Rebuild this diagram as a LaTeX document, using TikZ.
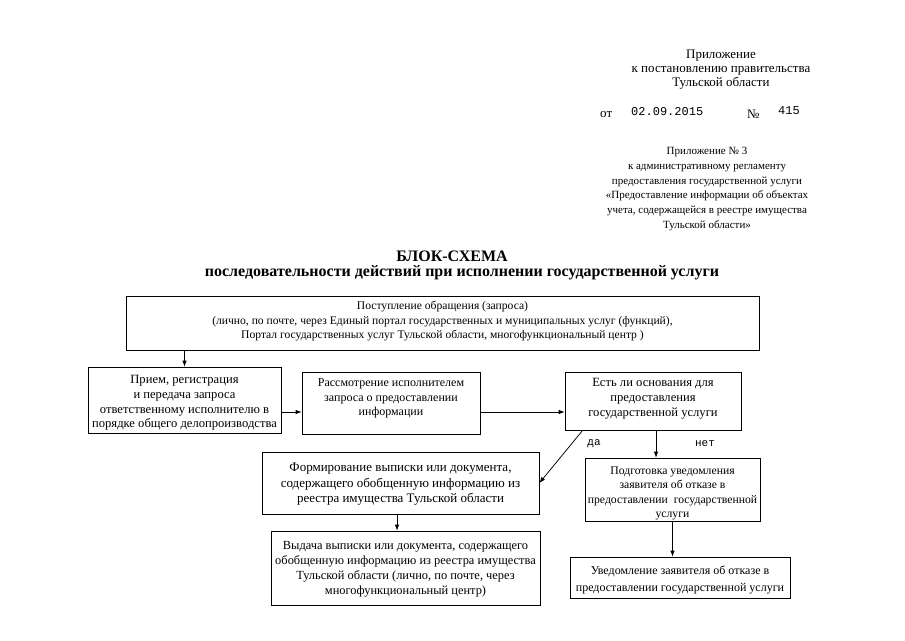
\documentclass[tikz,border=0pt]{standalone}
\usepackage{fontspec}
\setmainfont{Liberation Serif}
\setmonofont{Liberation Mono}
\usetikzlibrary{arrows.meta}
\begin{document}
\begin{tikzpicture}[x=1pt,y=-1pt,
  box/.style={draw, line width=0.75pt, inner sep=0pt},
  txt/.style={align=center, inner sep=0pt, font=\fontsize{12}{14.8}\selectfont},
  small/.style={align=center, inner sep=0pt, font=\fontsize{11.6}{14.5}\selectfont},
  head/.style={align=center, inner sep=0pt, font=\fontsize{13}{14}\selectfont},
  mono/.style={inner sep=0pt, font=\ttfamily\fontsize{12}{12}\selectfont},
  arr/.style={-{Latex[length=6pt,width=4.5pt]}, line width=0.75pt}]
\useasboundingbox (0,0) rectangle (905,640);

% header
\node[head] (h1) at (721,70) {Приложение\\к постановлению правительства\\Тульской области};
\node[head, anchor=west] (h2) at (600,114) {от};
\node[mono, anchor=west] (h3) at (631,112) {02.09.2015};
\node[head, anchor=west] (h4) at (747,114) {№};
\node[mono, anchor=west] (h5) at (778,111) {415};
\node[small, font=\fontsize{11}{14.8}\selectfont] (h6) at (707,189) {Приложение № 3\\к административному регламенту\\предоставления государственной услуги\\«Предоставление информации об объектах\\учета, содержащейся в реестре имущества\\Тульской области»};

% title
\node[font=\bfseries\fontsize{16}{18}\selectfont, inner sep=0pt] (t1) at (452,256) {БЛОК-СХЕМА};
\node[font=\bfseries\fontsize{16}{18}\selectfont, inner sep=0pt] (t2) at (462,273) {последовательности действий при исполнении государственной услуги};

% boxes
\node[box, minimum width=633pt, minimum height=54pt] (top) at (442.5,323) {};
\node[small] at (442.5,321.5) {Поступление обращения (запроса)\\(лично, по почте, через Единый портал государственных и муниципальных услуг (функций),\\Портал государственных услуг Тульской области, многофункциональный центр )};

\node[box, minimum width=193pt, minimum height=66pt] (A) at (184.5,400) {};
\node[txt, font=\fontsize{12.6}{14.8}\selectfont] at (184.5,403) {Прием, регистрация\\и передача запроса\\ответственному исполнителю в\\порядке общего делопроизводства};

\node[box, minimum width=178pt, minimum height=62pt] (B) at (391,403) {};
\node[txt] at (391,398.5) {Рассмотрение исполнителем\\запроса о предоставлении\\информации};

\node[box, minimum width=176pt, minimum height=58pt] (C) at (653,401) {};
\node[txt, font=\fontsize{12.6}{14.8}\selectfont] at (653,398.5) {Есть ли основания для\\предоставления\\государственной услуги};

\node[box, minimum width=277pt, minimum height=62pt] (D) at (400.5,483) {};
\node[txt, font=\fontsize{13}{15.5}\selectfont] at (400.5,484.5) {Формирование выписки или документа,\\содержащего обобщенную информацию из\\реестра имущества Тульской области};

\node[box, minimum width=175pt, minimum height=63pt] (E) at (672.5,489.5) {};
\node[txt, font=\fontsize{11.7}{14.6}\selectfont] at (672.5,493.5) {Подготовка уведомления\\заявителя об отказе в\\предоставлении\ \ государственной\\услуги};

\node[box, minimum width=269pt, minimum height=74pt] (F) at (405.5,568) {};
\node[txt, font=\fontsize{12.4}{15}\selectfont] at (405.5,569) {Выдача выписки или документа, содержащего\\обобщенную информацию из реестра имущества\\Тульской области (лично, по почте, через\\многофункциональный центр)};

\node[box, minimum width=220pt, minimum height=41pt] (G) at (680,577.5) {};
\node[small, font=\fontsize{12}{17}\selectfont] at (680,580) {Уведомление заявителя об отказе в\\предоставлении государственной услуги};

% labels
\node[mono, font=\ttfamily\fontsize{11}{12}\selectfont] (da) at (594,444) {да};
\node[mono, font=\ttfamily\fontsize{11}{12}\selectfont] (net) at (705,444) {нет};

% connectors
\draw[arr] (A.north |- top.south) -- (A.north);
\draw[arr] ([yshift=-12pt]A.east) -- ([yshift=-9pt]B.west);
\draw[arr] ([yshift=-9pt]B.east) -- ([yshift=-11pt]C.west);
\draw[arr] ([xshift=18pt]C.south west) -- (D.east);
\draw[arr] ([xshift=3pt]C.south) -- ([xshift=3pt]C.south |- E.north);
\draw[arr] ([xshift=-3.5pt]D.south) -- ([xshift=-3.5pt]D.south |- F.north);
\draw[arr] (E.south) -- (E.south |- G.north);
\end{tikzpicture}
\end{document}
